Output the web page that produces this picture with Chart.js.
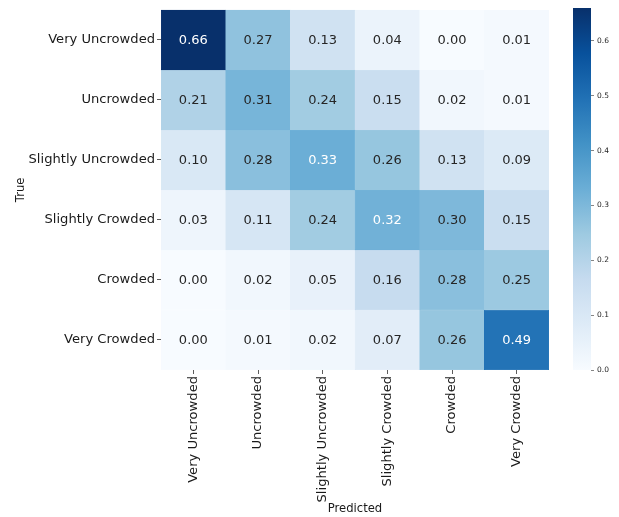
<!DOCTYPE html>
<html>
<head>
<meta charset="utf-8">
<script src="https://cdn.jsdelivr.net/npm/chart.js@4.4.1/dist/chart.umd.min.js"></script>
<style>
  html, body { margin: 0; padding: 0; background: #ffffff; }
  #wrap { position: relative; width: 619px; height: 517px; }
  #heat { position: absolute; left: 0; top: 0; }
  #cbar { position: absolute; left: 560px; top: 0; }
</style>
</head>
<body>
<div id="wrap">
  <canvas id="heat" width="619" height="517"></canvas>
  <canvas id="cbar" width="59" height="517"></canvas>
</div>
<script>
// Class names, shared by both axes
const trueLabels = ['Very Uncrowded', 'Uncrowded', 'Slightly Uncrowded', 'Slightly Crowded', 'Crowded', 'Very Crowded'];
const predictedLabels = ['Very Uncrowded', 'Uncrowded', 'Slightly Uncrowded', 'Slightly Crowded', 'Crowded', 'Very Crowded'];

// Normalised confusion matrix, one array per true class (columns = predicted class)
const rowVeryUncrowded     = [0.66, 0.27, 0.13, 0.04, 0.00, 0.01];
const rowUncrowded         = [0.21, 0.31, 0.24, 0.15, 0.02, 0.01];
const rowSlightlyUncrowded = [0.10, 0.28, 0.33, 0.26, 0.13, 0.09];
const rowSlightlyCrowded   = [0.03, 0.11, 0.24, 0.32, 0.30, 0.15];
const rowCrowded           = [0.00, 0.02, 0.05, 0.16, 0.28, 0.25];
const rowVeryCrowded       = [0.00, 0.01, 0.02, 0.07, 0.26, 0.49];

// Colour bar tick values
const colorbarTicks = [0.0, 0.1, 0.2, 0.3, 0.4, 0.5, 0.6];

const matrix = [rowVeryUncrowded, rowUncrowded, rowSlightlyUncrowded, rowSlightlyCrowded, rowCrowded, rowVeryCrowded];
const vmin = 0;
const vmax = Math.max(...matrix.flat());

// "Blues" sequential palette
const BLUES = ['#f7fbff', '#deebf7', '#c6dbef', '#9ecae1', '#6baed6', '#4292c6', '#2171b5', '#08519c', '#08306b'];
function hexToRgb(h) { return [parseInt(h.slice(1, 3), 16), parseInt(h.slice(3, 5), 16), parseInt(h.slice(5, 7), 16)]; }
const BLUES_RGB = BLUES.map(hexToRgb);
function bluesRgb(t) {
  t = Math.min(1, Math.max(0, t));
  const p = t * (BLUES_RGB.length - 1);
  const i = Math.min(BLUES_RGB.length - 2, Math.floor(p));
  const f = p - i;
  const a = BLUES_RGB[i], b = BLUES_RGB[i + 1];
  return [0, 1, 2].map(k => Math.round(a[k] + (b[k] - a[k]) * f));
}
function colorFor(v) {
  const c = bluesRgb((v - vmin) / (vmax - vmin));
  return `rgb(${c[0]},${c[1]},${c[2]})`;
}
function textColorFor(v) {
  const c = bluesRgb((v - vmin) / (vmax - vmin)).map(x => {
    x /= 255;
    return x <= 0.03928 ? x / 12.92 : Math.pow((x + 0.055) / 1.055, 2.4);
  });
  const lum = 0.2126 * c[0] + 0.7152 * c[1] + 0.0722 * c[2];
  return lum > 0.408 ? '#262626' : '#ffffff';
}

const FONT = 'DejaVu Sans';

// One floating-bar dataset per true class: each bar spans [row, row + 1]
const datasets = matrix.map((row, i) => ({
  label: trueLabels[i],
  data: row.map(() => [i, i + 1]),
  values: row,
  backgroundColor: row.map(colorFor),
  borderColor: row.map(colorFor),
  borderWidth: 0.5,
  borderSkipped: false,
  barPercentage: 1,
  categoryPercentage: 1,
  grouped: false
}));

const cellText = {
  id: 'cellText',
  afterDatasetsDraw(chart) {
    const ctx = chart.ctx;
    ctx.save();
    ctx.font = `13px "${FONT}"`;
    ctx.textAlign = 'center';
    ctx.textBaseline = 'middle';
    chart.data.datasets.forEach((ds, di) => {
      chart.getDatasetMeta(di).data.forEach((el, j) => {
        const v = ds.values[j];
        const p = el.getCenterPoint();
        ctx.fillStyle = textColorFor(v);
        ctx.fillText(v.toFixed(2), p.x, p.y + 1);
      });
    });
    ctx.restore();
  }
};

new Chart(document.getElementById('heat'), {
  type: 'bar',
  data: { labels: predictedLabels, datasets },
  options: {
    responsive: false,
    animation: false,
    devicePixelRatio: 1,
    layout: { padding: { left: 0, top: 8, right: 70, bottom: 0 } },
    plugins: { legend: { display: false }, tooltip: { enabled: false } },
    scales: {
      x: {
        grid: { display: true, drawOnChartArea: false, drawTicks: true, tickLength: 4, offset: false, color: '#333333', lineWidth: 0.8 },
        border: { display: false },
        ticks: { minRotation: 90, maxRotation: 90, autoSkip: false, padding: 2, color: '#1a1a1a', font: { family: FONT, size: 13.1 } },
        title: { display: true, text: 'Predicted', color: '#1a1a1a', font: { family: FONT, size: 11.6 }, padding: { top: 0, bottom: 1 } },
        afterFit(scale) { scale.height = 147; }
      },
      y: {
        type: 'linear',
        min: 0,
        max: trueLabels.length,
        reverse: true,
        grid: { display: true, drawOnChartArea: false, drawTicks: true, tickLength: 4, color: '#333333', lineWidth: 0.8 },
        border: { display: false },
        afterBuildTicks(scale) { scale.ticks = trueLabels.map((_, i) => ({ value: i + 0.5 })); },
        ticks: {
          autoSkip: false,
          padding: 2,
          color: '#1a1a1a',
          font: { family: FONT, size: 13.1 },
          callback: (value, index) => trueLabels[index]
        },
        title: { display: true, text: 'True', color: '#1a1a1a', font: { family: FONT, size: 11.6 }, padding: { top: 14, bottom: 0 } },
        afterFit(scale) { scale.width = 161; }
      }
    }
  },
  plugins: [cellText]
});

// Colour bar: a single floating bar from vmin to vmax filled with the palette
new Chart(document.getElementById('cbar'), {
  type: 'bar',
  data: {
    labels: [''],
    datasets: [{
      data: [[vmin, vmax]],
      borderWidth: 0,
      borderSkipped: false,
      barPercentage: 1,
      categoryPercentage: 1,
      backgroundColor(context) {
        const chart = context.chart;
        if (!chart.chartArea) return BLUES[4];
        const ys = chart.scales.y;
        const g = chart.ctx.createLinearGradient(0, ys.getPixelForValue(vmin), 0, ys.getPixelForValue(vmax));
        BLUES.forEach((c, k) => g.addColorStop(k / (BLUES.length - 1), c));
        return g;
      }
    }]
  },
  options: {
    responsive: false,
    animation: false,
    devicePixelRatio: 1,
    layout: { padding: { left: 13, top: 8, right: 0, bottom: 147 } },
    plugins: { legend: { display: false }, tooltip: { enabled: false } },
    scales: {
      x: { display: false },
      y: {
        position: 'right',
        min: vmin,
        max: vmax,
        grid: { display: true, drawOnChartArea: false, drawTicks: true, tickLength: 3, color: '#333333', lineWidth: 0.6 },
        border: { display: false },
        afterBuildTicks(scale) { scale.ticks = colorbarTicks.map(v => ({ value: v })); },
        ticks: {
          padding: 3,
          color: '#262626',
          font: { family: FONT, size: 7.5 },
          callback: (value) => Number(value).toFixed(1)
        },
        afterFit(scale) { scale.width = 28; }
      }
    }
  }
});
</script>
</body>
</html>
